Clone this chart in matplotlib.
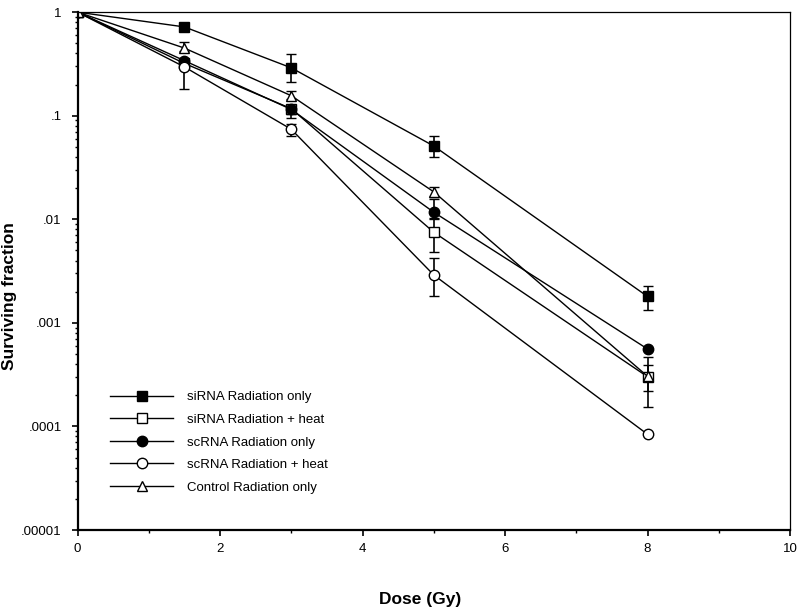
import numpy as np
import matplotlib.pyplot as plt
from matplotlib.lines import Line2D
from matplotlib.ticker import FixedLocator, FixedFormatter, LogLocator, NullFormatter

plt.rcParams['font.family'] = ['Liberation Sans', 'DejaVu Sans']

# Dosis (Gy)
dose = [0, 1.5, 3, 5, 8]

# fraccion de supervivencia por grupo (valor, limite inferior, limite superior)
sirna_rad = [1, 0.72, 0.29, 0.051, 0.0018]
sirna_rad_lo = [1, 0.72, 0.21, 0.040, 0.00133]
sirna_rad_hi = [1, 0.72, 0.39, 0.064, 0.00228]

sirna_heat = [1, 0.32, 0.117, 0.0075, 0.000302]
sirna_heat_lo = [1, 0.32, 0.105, 0.0048, 0.000153]
sirna_heat_hi = [1, 0.32, 0.125, 0.0100, 0.000468]

scrna_rad = [1, 0.34, 0.115, 0.0117, 0.00056]
scrna_rad_lo = [1, 0.34, 0.095, 0.0102, 0.00056]
scrna_rad_hi = [1, 0.34, 0.12, 0.0156, 0.00056]

scrna_heat = [1, 0.296, 0.074, 0.0029, 0.000084]
scrna_heat_lo = [1, 0.18, 0.0636, 0.00183, 0.000084]
scrna_heat_hi = [1, 0.35, 0.083, 0.0042, 0.000084]

control_rad = [1, 0.45, 0.156, 0.0184, 0.000305]
control_rad_lo = [1, 0.42, 0.145, 0.0165, 0.000221]
control_rad_hi = [1, 0.51, 0.174, 0.0203, 0.000392]

series = [
    ('siRNA Radiation only', sirna_rad, sirna_rad_lo, sirna_rad_hi, 's', 'black'),
    ('siRNA Radiation + heat', sirna_heat, sirna_heat_lo, sirna_heat_hi, 's', 'white'),
    ('scRNA Radiation only', scrna_rad, scrna_rad_lo, scrna_rad_hi, 'o', 'black'),
    ('scRNA Radiation + heat', scrna_heat, scrna_heat_lo, scrna_heat_hi, 'o', 'white'),
    ('Control Radiation only', control_rad, control_rad_lo, control_rad_hi, '^', 'white'),
]

fig = plt.figure(figsize=(8, 6.1), dpi=100)
ax = fig.add_axes([0.0969, 0.1311, 0.8906, 0.849])

handles = []
for label, y, lo, hi, mk, fc in series:
    y = np.array(y)
    yerr = [y - np.array(lo), np.array(hi) - y]
    ax.errorbar(dose, y, yerr=yerr, marker=mk, markersize=7.5, mfc=fc, mec='black',
                mew=1.0, color='black', lw=1.0, ecolor='black', elinewidth=1.2,
                capsize=3.5, capthick=1.2)
    handles.append(Line2D([], [], marker=mk, markersize=7.5, mfc=fc, mec='black',
                          mew=1.0, color='black', lw=1.0, label=label))

ax.set_yscale('log')
ax.set_xlim(0, 10)
ax.set_ylim(1e-5, 1)

ax.set_xticks([0, 2, 4, 6, 8, 10])
ax.set_xticks([1, 3, 5, 7, 9], minor=True)
yt = [1e-5, 1e-4, 1e-3, 1e-2, 1e-1, 1]
ax.yaxis.set_major_locator(FixedLocator(yt))
ax.yaxis.set_major_formatter(FixedFormatter(['.00001', '.0001', '.001', '.01', '.1', '1']))
ax.yaxis.set_minor_locator(LogLocator(base=10, subs=np.arange(2, 10), numticks=20))
ax.yaxis.set_minor_formatter(NullFormatter())

ax.tick_params(which='major', direction='out', length=4.5, width=1.2, labelsize=9.5)
ax.tick_params(which='minor', direction='out', length=2.5, width=1.0)
ax.tick_params(axis='y', which='major', pad=7)
ax.tick_params(axis='x', which='major', pad=5)

for side in ['left', 'bottom']:
    ax.spines[side].set_linewidth(1.6)
for side in ['top', 'right']:
    ax.spines[side].set_linewidth(0.9)

ax.set_xlabel('Dose (Gy)', fontsize=12.5, fontweight='bold')
ax.set_ylabel('Surviving fraction', fontsize=12.5, fontweight='bold')
ax.xaxis.set_label_coords((420 - 77.5) / 712.5, -(592 - 530) / 518)
ax.yaxis.set_label_coords(-(77.5 - 17) / 712.5, (530 - 296) / 518)

ax.legend(handles=handles, loc='upper left', bbox_to_anchor=(0.0456, 0.268), frameon=False,
          borderaxespad=0, borderpad=0, handlelength=4.8, handletextpad=1.0,
          labelspacing=0.78, fontsize=9.5)

fig.savefig('out.png', dpi=100)
